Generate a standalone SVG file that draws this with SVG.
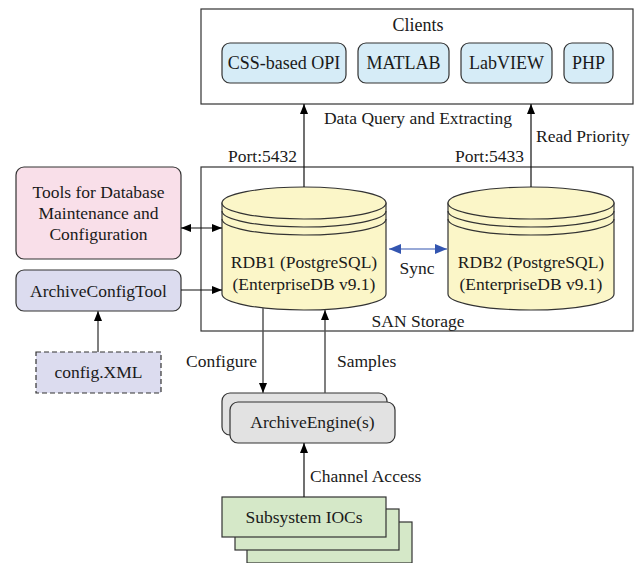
<svg xmlns="http://www.w3.org/2000/svg" width="635" height="563" viewBox="0 0 635 563">
<defs>
<marker id="ah" viewBox="0 0 10 8" refX="10" refY="4" markerWidth="10" markerHeight="8" markerUnits="userSpaceOnUse" orient="auto-start-reverse"><path d="M0,0 L10,4 L0,8 Z" fill="#000"/></marker>
<marker id="ahb" viewBox="0 0 12 10" refX="12" refY="5" markerWidth="12" markerHeight="10" markerUnits="userSpaceOnUse" orient="auto-start-reverse"><path d="M0,0 L12,5 L0,10 Z" fill="#3355b0"/></marker>
<style>
text{font-family:"Liberation Serif","Times New Roman",serif;fill:#1a1a1a}
.lbl{font-size:17.5px}
.nt{font-size:17.5px;text-anchor:middle}
.ct{font-size:18px;text-anchor:middle}
.frame{fill:#fff;stroke:#333;stroke-width:1.2}
.cli{fill:#d6ecf7;stroke:#333;stroke-width:1.2}
.cyl{fill:#fbf6c8;stroke:#333;stroke-width:1.2}
.cylL{fill:none;stroke:#333;stroke-width:1.2}
.tools{fill:#f9dfe9;stroke:#333;stroke-width:1.2}
.lav{fill:#dcdcef;stroke:#333;stroke-width:1.2}
.eng{fill:#e2e2e2;stroke:#333;stroke-width:1.2}
.ioc{fill:#d5e8c8;stroke:#333;stroke-width:1.2}
.cn{fill:none;stroke:#111;stroke-width:1.2}
.cg{fill:none;stroke:#555;stroke-width:1.5}
</style>
</defs>

<g id="clients">
<rect class="frame" x="201" y="9" width="432" height="95"/>
<text class="ct" x="418" y="31">Clients</text>
<rect class="cli" x="222" y="43" width="124" height="40" rx="8"/>
<text class="ct" x="284" y="69">CSS-based OPI</text>
<rect class="cli" x="358" y="43" width="91" height="40" rx="8"/>
<text class="ct" x="403.5" y="69">MATLAB</text>
<rect class="cli" x="461" y="43" width="91" height="40" rx="8"/>
<text class="ct" x="506.5" y="69">LabVIEW</text>
<rect class="cli" x="564" y="43" width="49" height="40" rx="8"/>
<text class="ct" x="588.5" y="69">PHP</text>
</g>

<g id="san">
<rect class="frame" x="201" y="167" width="432" height="164"/>
<text class="lbl" x="418" y="327" text-anchor="middle">SAN Storage</text>
</g>

<g id="rdb1">
<path class="cyl" d="M222,203 V294 A82,16 0 0 0 386,294 V203 Z"/>
<ellipse class="cyl" cx="304" cy="203" rx="82" ry="16"/>
<path class="cylL" d="M222,211 A82,16 0 0 0 386,211 M222,219 A82,16 0 0 0 386,219"/>
<text class="nt" x="304" y="268">RDB1 (PostgreSQL)</text>
<text class="nt" x="304" y="290">(EnterpriseDB v9.1)</text>
</g>

<g id="rdb2">
<path class="cyl" d="M448,203 V294 A83,16 0 0 0 614,294 V203 Z"/>
<ellipse class="cyl" cx="531" cy="203" rx="83" ry="16"/>
<path class="cylL" d="M448,211 A83,16 0 0 0 614,211 M448,219 A83,16 0 0 0 614,219"/>
<text class="nt" x="531" y="268">RDB2 (PostgreSQL)</text>
<text class="nt" x="531" y="290">(EnterpriseDB v9.1)</text>
</g>

<g id="tools">
<rect class="tools" x="16" y="167" width="165" height="92" rx="8"/>
<text class="nt" x="98.5" y="198">Tools for Database</text>
<text class="nt" x="98.5" y="219">Maintenance and</text>
<text class="nt" x="98.5" y="240">Configuration</text>
</g>

<g id="archiveconfigtool">
<rect class="lav" x="16" y="270" width="165" height="41" rx="8"/>
<text class="nt" x="98.5" y="297">ArchiveConfigTool</text>
</g>

<g id="configxml">
<rect class="lav" x="36" y="352" width="125" height="41" stroke-dasharray="5,3"/>
<text class="nt" x="98.5" y="378">config.XML</text>
</g>

<g id="archiveengine">
<rect class="eng" x="222" y="393" width="165" height="42" rx="8"/>
<rect class="eng" x="230" y="402" width="165" height="41" rx="8"/>
<text class="nt" x="312.5" y="428">ArchiveEngine(s)</text>
</g>

<g id="iocs">
<rect class="ioc" x="247" y="522" width="165" height="41"/>
<rect class="ioc" x="235" y="509" width="164" height="41"/>
<rect class="ioc" x="222" y="497" width="164" height="40"/>
<text class="nt" x="304" y="523">Subsystem IOCs</text>
</g>

<g id="connectors">
<line class="cn" x1="304" y1="187" x2="304" y2="104" marker-end="url(#ah)"/>
<line class="cn" x1="531" y1="187" x2="531" y2="104" marker-end="url(#ah)"/>
<line class="cn" x1="181" y1="228" x2="222" y2="228" marker-start="url(#ah)" marker-end="url(#ah)"/>
<line class="cn" x1="181" y1="290" x2="222" y2="290" marker-end="url(#ah)"/>
<line x1="389" y1="249" x2="447" y2="249" stroke="#3355b0" stroke-width="1.2" marker-start="url(#ahb)" marker-end="url(#ahb)"/>
<line class="cg" x1="98" y1="352" x2="98" y2="311" marker-end="url(#ah)"/>
<line class="cg" x1="263" y1="308" x2="263" y2="393" marker-end="url(#ah)"/>
<line class="cg" x1="325" y1="393" x2="325" y2="310" marker-end="url(#ah)"/>
<line class="cn" x1="304" y1="497" x2="304" y2="443" marker-end="url(#ah)"/>
<text class="lbl" x="418" y="124" text-anchor="middle">Data Query and Extracting</text>
<text class="lbl" x="297" y="162" text-anchor="end">Port:5432</text>
<text class="lbl" x="524" y="162" text-anchor="end">Port:5433</text>
<text class="lbl" x="536" y="142">Read Priority</text>
<text class="lbl" x="417" y="274" text-anchor="middle">Sync</text>
<text class="lbl" x="257" y="367" text-anchor="end">Configure</text>
<text class="lbl" x="337" y="367">Samples</text>
<text class="lbl" x="310" y="482">Channel Access</text>
</g>
</svg>
